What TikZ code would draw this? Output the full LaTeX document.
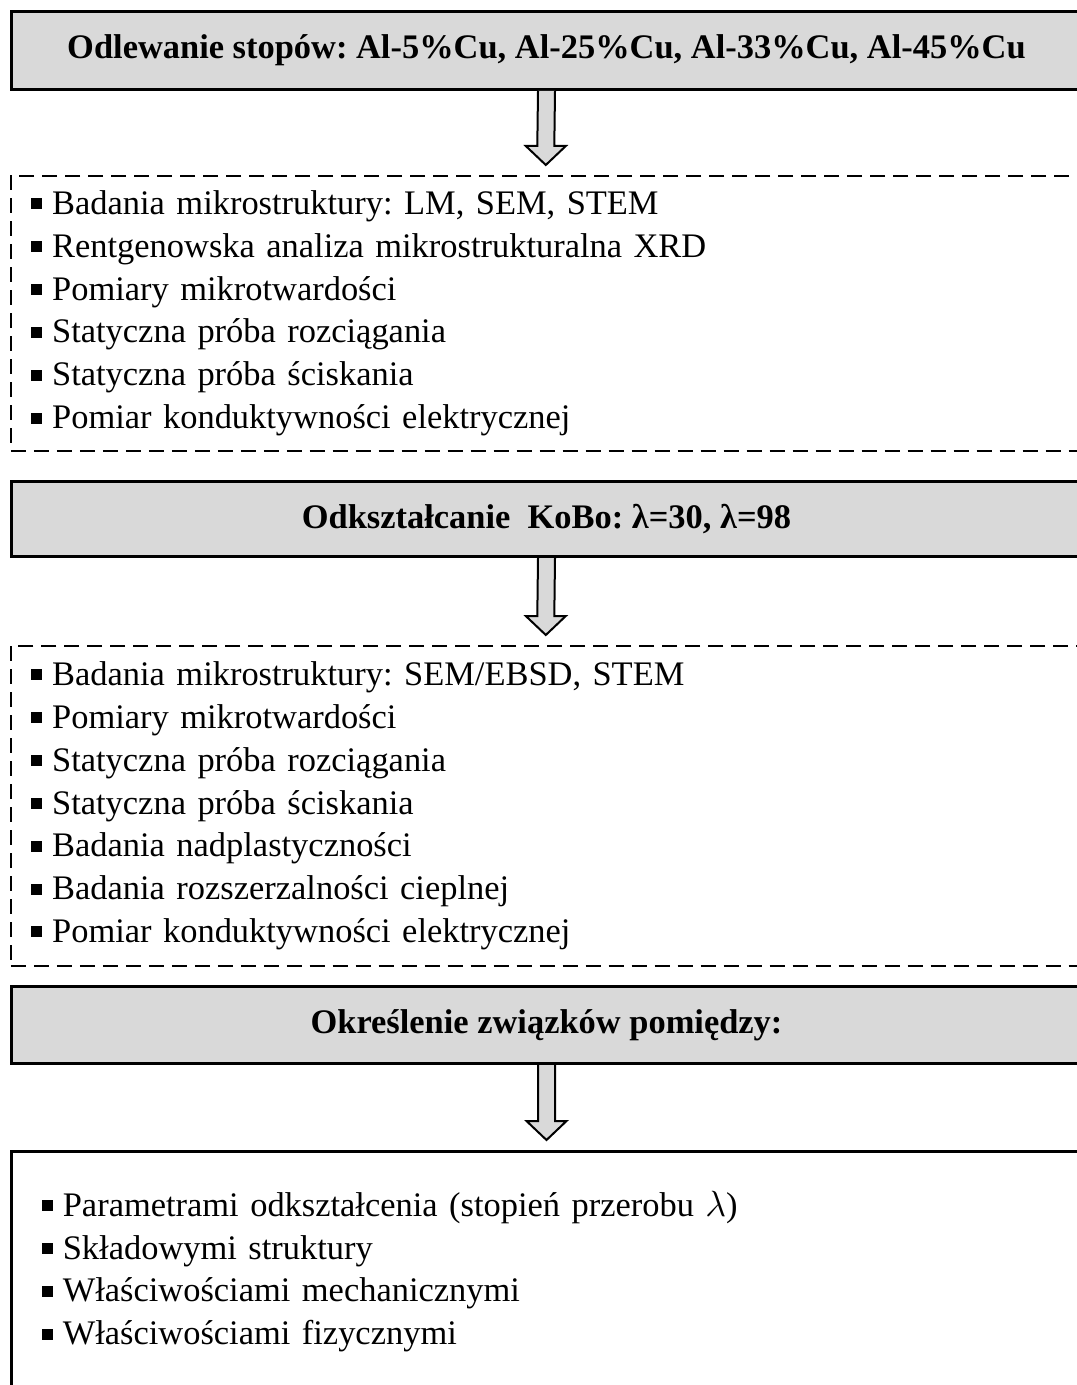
\documentclass[tikz,border=0pt]{standalone}
\usepackage{fontspec}
\setmainfont{Liberation Serif}
\usetikzlibrary{calc,positioning}
\frenchspacing

\newcommand{\px}{0.02cm}
\newcommand{\sqbul}{\rule[0.15em]{0.32em}{0.32em}\hspace{0.3em}}
% strzalka blokowa miedzy dwoma wezlami
\newcommand{\flowarrow}[2]{%
  \draw[flowarr] ($(#1.south)+(-8.5,0)$) -- ($(#2.north)+(-8.5,-29)$)
    -- ($(#2.north)+(-20,-29)$) -- ($(#2.north)+(0,-10)$)
    -- ($(#2.north)+(20,-29)$) -- ($(#2.north)+(8.5,-29)$)
    -- ($(#1.south)+(8.5,0)$);}

\begin{document}
\begin{tikzpicture}[x=0.02cm, y=-0.02cm]
        % ================= style =================
        \tikzset{
            headbox/.style={draw=black, line width=3*\px, fill=black!15, anchor=north west,
                minimum width=1070*\px, font=\fontsize{19.6}{23}\selectfont\bfseries},
            listbox/.style={draw=black, line width=1.6*\px, dash pattern=on 0.3cm off 0.16cm,
                anchor=north west, minimum width=1070*\px, inner xsep=20*\px,
                text width=1030*\px, align=left, font=\fontsize{19.6}{24.4}\selectfont},
            resultbox/.style={listbox, solid, line width=3*\px, inner xsep=30*\px, text width=1010*\px},
            flowarr/.style={draw=black, line width=2*\px, fill=black!15, line join=miter}
        }
        \useasboundingbox (0,0) rectangle (1077,1385);
        \clip (0,0) rectangle (1077,1385);

        % ================= bloki =================
        \node[headbox, minimum height=78*\px] (cast) at (10,10)
            {Odlewanie stopów: Al-5\%Cu, Al-25\%Cu, Al-33\%Cu, Al-45\%Cu};

        \node[listbox, minimum height=275*\px] (tests1) at (10,175) {%
            \sqbul Badania mikrostruktury: LM, SEM, STEM\\
            \sqbul Rentgenowska analiza mikrostrukturalna XRD\\
            \sqbul Pomiary mikrotwardości\\
            \sqbul Statyczna próba rozciągania\\
            \sqbul Statyczna próba ściskania\\
            \sqbul Pomiar konduktywności elektrycznej};

        \node[headbox, minimum height=75*\px] (kobo) at (10,480)
            {Odkształcanie\ \ KoBo: λ=30, λ=98};

        \node[listbox, minimum height=320*\px, inner xsep=18*\px] (tests2) at (10,645) {%
            \sqbul Badania mikrostruktury: SEM/EBSD, STEM\\
            \sqbul Pomiary mikrotwardości\\
            \sqbul Statyczna próba rozciągania\\
            \sqbul Statyczna próba ściskania\\
            \sqbul Badania nadplastyczności\\
            \sqbul Badania rozszerzalności cieplnej\\
            \sqbul Pomiar konduktywności elektrycznej};

        \node[headbox, minimum height=77*\px] (relat) at (10,985)
            {Określenie związków pomiędzy:};

        \node[resultbox, minimum height=240*\px] (result) at (10,1150) {%
            \sqbul Parametrami odkształcenia (stopień przerobu $\lambda$)\\
            \sqbul Składowymi struktury\\
            \sqbul Właściwościami mechanicznymi\\
            \sqbul Właściwościami fizycznymi};

        % ================= strzalki =================
        \flowarrow{cast}{tests1}
        \flowarrow{kobo}{tests2}
        \flowarrow{relat}{result}

    \end{tikzpicture}
\end{document}
